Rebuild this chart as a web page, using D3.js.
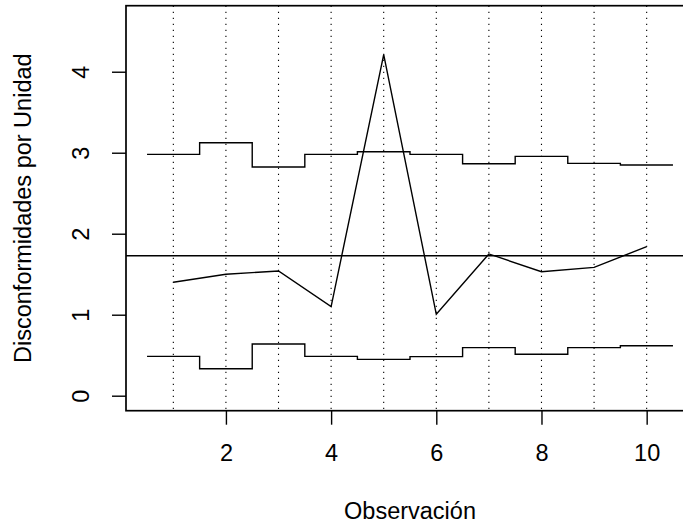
<!DOCTYPE html>
<html>
<head>
<meta charset="utf-8">
<script src="https://cdn.jsdelivr.net/npm/d3@7"></script>
<style>
  body { margin: 0; background: #fff; }
  svg { display: block; font-family: "Liberation Sans", Arial, Helvetica, sans-serif; }
  .axis text { font-size: 23.5px; fill: #000; }
  .axis line { stroke: #000; stroke-width: 1.4; }
  .axis-title { font-size: 23.5px; fill: #000; }
</style>
</head>
<body>
<svg id="chart" width="683" height="525"></svg>
<script>
// Observations (samples)
const obs = [1, 2, 3, 4, 5, 6, 7, 8, 9, 10];
// Nonconformities per unit
const uValues = [1.40, 1.50, 1.54, 1.10, 4.21, 1.005, 1.75, 1.53, 1.585, 1.84];
// Control limits per observation
const ucl = [2.98, 3.123, 2.823, 2.98, 3.012, 2.98, 2.864, 2.955, 2.869, 2.848];
const lcl = [0.486, 0.333, 0.638, 0.486, 0.449, 0.482, 0.593, 0.511, 0.593, 0.617];
const centerLine = 1.728;

const xTicks = [2, 4, 6, 8, 10];
const yTicks = [0, 1, 2, 3, 4];
const xLim = [0.5, 10.5];
const yLim = [0, 4.63];

// plot region (right side falls outside the window, as in the reference)
const plot = { left: 126, top: 5.7, right: 694, bottom: 410.7 };

// R-style 4% axis extension
function extend([a, b]) {
  const d = (b - a) * 0.04;
  return [a - d, b + d];
}

const xScale = d3.scaleLinear(extend(xLim), [plot.left, plot.right]);
const yScale = d3.scaleLinear(extend(yLim), [plot.bottom, plot.top]);

const svg = d3.select('#chart');

// vertical dotted guides
svg.append('g')
   .attr('class', 'guides')
   .selectAll('line')
   .data(obs)
   .join('line')
   .attr('x1', d => xScale(d))
   .attr('x2', d => xScale(d))
   .attr('y1', plot.top)
   .attr('y2', plot.bottom)
   .attr('stroke', '#000')
   .attr('stroke-width', 1.1)
   .attr('stroke-dasharray', '1.3 4.7');

// center line across the whole region
svg.append('line')
   .attr('x1', plot.left)
   .attr('x2', plot.right)
   .attr('y1', yScale(centerLine))
   .attr('y2', yScale(centerLine))
   .attr('stroke', '#000')
   .attr('stroke-width', 1.4);

// step limits
const stepLine = d3.line()
                   .x(d => xScale(d[0]))
                   .y(d => yScale(d[1]))
                   .curve(d3.curveStepAfter);

function stepPoints(vals) {
  let pts = vals.map((v, i) => [obs[i] - 0.5, v]);
  pts.push([obs[obs.length - 1] + 0.5, vals[vals.length - 1]]);
  return pts;
}

svg.append('g')
   .attr('class', 'limits')
   .selectAll('path')
   .data([ucl, lcl])
   .join('path')
   .attr('d', d => stepLine(stepPoints(d)))
   .attr('fill', 'none')
   .attr('stroke', '#000')
   .attr('stroke-width', 1.4);

// observed series
svg.append('path')
   .datum(obs.map((o, i) => [o, uValues[i]]))
   .attr('d', d3.line().x(d => xScale(d[0])).y(d => yScale(d[1])))
   .attr('fill', 'none')
   .attr('stroke', '#000')
   .attr('stroke-width', 1.4)
   .attr('stroke-linejoin', 'miter');

// axes
const xAxis = d3.axisBottom(xScale)
                .tickValues(xTicks)
                .tickSize(14)
                .tickPadding(20)
                .tickFormat(d3.format('d'));

svg.append('g')
   .attr('class', 'axis x-axis')
   .attr('transform', `translate(0,${plot.bottom})`)
   .call(xAxis)
   .call(g => g.select('.domain').remove());

const yAxis = d3.axisLeft(yScale)
                .tickValues(yTicks)
                .tickSize(14)
                .tickFormat(d3.format('d'));

svg.append('g')
   .attr('class', 'axis y-axis')
   .attr('transform', `translate(${plot.left},0)`)
   .call(yAxis)
   .call(g => g.select('.domain').remove())
   .call(g => g.selectAll('.tick text')
               .attr('transform', 'rotate(-90)')
               .attr('x', 0)
               .attr('y', -37.5)
               .attr('dy', 0)
               .attr('text-anchor', 'middle'));

// box
svg.append('rect')
   .attr('x', plot.left)
   .attr('y', plot.top)
   .attr('width', plot.right - plot.left)
   .attr('height', plot.bottom - plot.top)
   .attr('fill', 'none')
   .attr('stroke', '#000')
   .attr('stroke-width', 1.7);

// titles
svg.append('text')
   .attr('class', 'axis-title')
   .attr('x', (plot.left + plot.right) / 2)
   .attr('y', 519)
   .attr('text-anchor', 'middle')
   .text('Observación');

svg.append('text')
   .attr('class', 'axis-title')
   .attr('text-anchor', 'middle')
   .attr('transform', `translate(31,${(plot.top + plot.bottom) / 2}) rotate(-90)`)
   .text('Disconformidades por Unidad');
</script>
</body>
</html>
